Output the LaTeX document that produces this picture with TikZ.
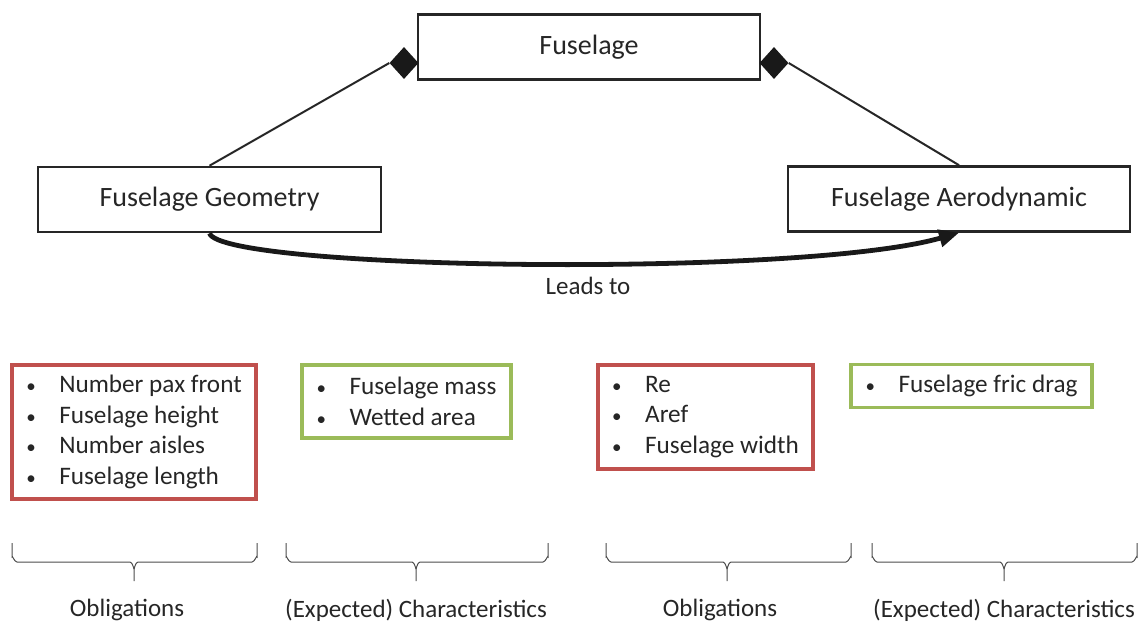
\documentclass[tikz,border=0pt]{standalone}
\usepackage{fontspec}
\setmainfont{Carlito}
\usetikzlibrary{shapes.geometric,arrows.meta}
\definecolor{myred}{HTML}{C0504D}
\definecolor{mygreen}{HTML}{9BBB59}
\begin{document}
\begin{tikzpicture}[x=1pt,y=-1pt,
  mainbox/.style={draw=black!85,line width=2.6pt,minimum width=342pt,minimum height=65pt,inner sep=0pt,font=\fontsize{28}{32}\selectfont,text=black!85},
  listbox/.style={line width=3.2pt,inner sep=0pt,align=left,font=\fontsize{25.2}{30.5}\selectfont,text=black!85},
  redbox/.style={listbox,draw=myred},
  greenbox/.style={listbox,draw=mygreen},
  comp/.style={diamond,fill=black!90,minimum width=29pt,minimum height=32pt,inner sep=0pt},
  link/.style={draw=black!85,line width=2pt},
  lbl/.style={font=\fontsize{25}{30}\selectfont,text=black!85,inner sep=0pt},
  bracestyle/.style={draw=black!70,line width=1pt}
]
\useasboundingbox (0,0) rectangle (1146,626);
\newcommand{\itm}[1]{\makebox[33pt][l]{\fontsize{19}{19}\selectfont•}#1}

\node[mainbox] (fus) at (589,47) {Fuselage};
\node[mainbox,minimum width=343pt] (geo) at (209.5,199.5) {Fuselage Geometry};
\node[mainbox] (aero) at (959,199) {Fuselage Aerodynamic};

\node[comp] (dl) at (404,63) {};
\node[comp] (dr) at (774,63) {};

\draw[link] (geo.north) -- (dl.west);
\draw[link] (aero.north) -- (dr.east);

\draw[black!90,line width=4.8pt,-{Triangle[length=20pt,width=17pt]}]
  (geo.south) .. controls (222,270) and (800,278) .. (aero.south);
\node[lbl] (leads) at (588,286) {Leads to};

\node[redbox,minimum width=244pt,minimum height=134pt] (ob1) at (134,432)
  {\itm{Number pax front}\\\itm{Fuselage height}\\\itm{Number aisles}\\\itm{Fuselage length}};
\node[greenbox,minimum width=209pt,minimum height=73pt] (ch1) at (406.5,401.5)
  {\itm{Fuselage mass}\\\itm{Wetted area}};
\node[redbox,minimum width=215pt,minimum height=104pt] (ob2) at (705.5,417)
  {\itm{Re}\\\itm{Aref}\\\itm{Fuselage width}};
\node[greenbox,minimum width=241pt,minimum height=43pt] (ch2) at (971.5,386)
  {\itm{Fuselage fric drag}};

\foreach \a/\b/\m in {12/257/134, 286/548/416, 606/851/727, 872/1137/1004}{
  \draw[bracestyle] (\a,543) -- (\a,557) to[out=90,in=180] (\a+5,562) -- (\m-4,562)
     to[out=0,in=-90] (\m,568) -- (\m,581);
  \draw[bracestyle] (\b,543) -- (\b,557) to[out=90,in=0] (\b-5,562) -- (\m+4,562)
     to[out=180,in=-90] (\m,568);
}

\node[lbl] (l1) at (127,610) {Obligations};
\node[lbl] (l2) at (416,610) {(Expected) Characteristics};
\node[lbl] (l3) at (720,610) {Obligations};
\node[lbl] (l4) at (1004,610) {(Expected) Characteristics};
\end{tikzpicture}
\end{document}
